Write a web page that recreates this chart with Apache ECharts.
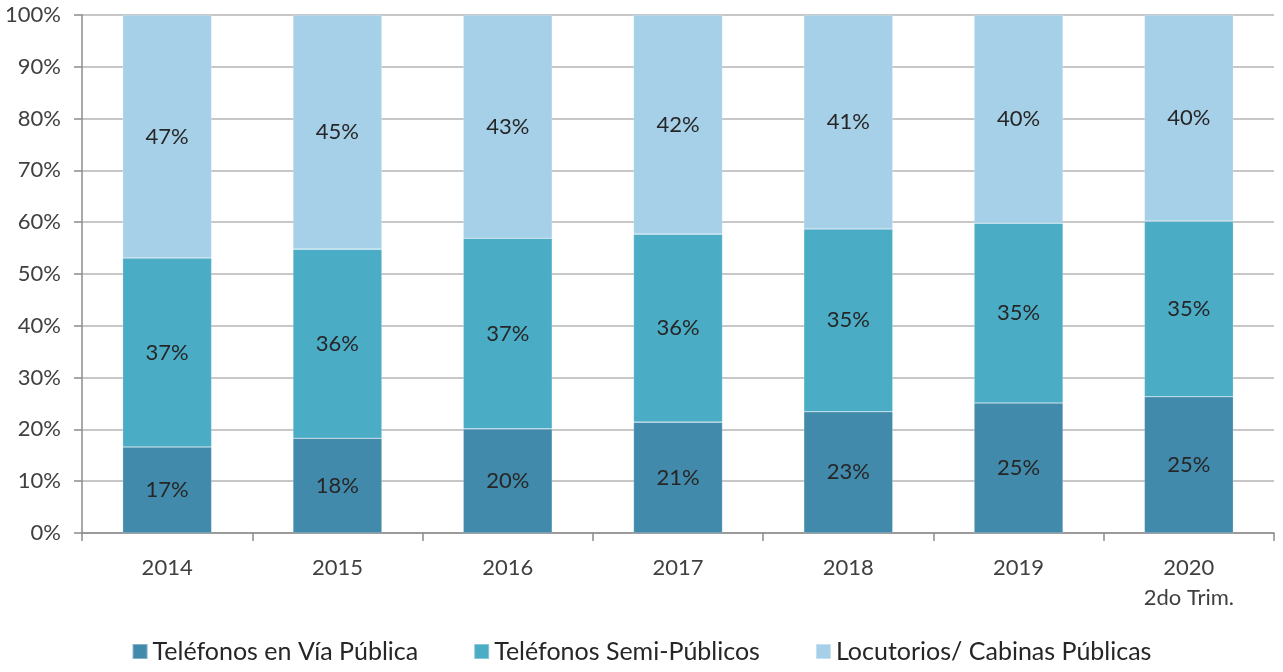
<!DOCTYPE html>
<html>
<head>
<meta charset="utf-8">
<script src="https://cdn.jsdelivr.net/npm/echarts@6/dist/echarts.min.js"></script>
<style>
  html, body { margin: 0; padding: 0; background: #fff; }
  #chart { width: 1283px; height: 672px; }
</style>
</head>
<body>
<div id="chart"></div>
<script>
  var years = ['2014', '2015', '2016', '2017', '2018', '2019', '2020\n2do Trim.'];
  var viaPublica = [16.6, 18.3, 20.1, 21.4, 23.4, 25.1, 26.3];
  var semiPublicos = [36.5, 36.5, 36.8, 36.3, 35.3, 34.7, 33.9];
  var locutorios = [46.9, 45.2, 43.1, 42.3, 41.3, 40.2, 39.8];
  // etiquetas tal como aparecen en el gráfico
  var viaLabels = ['17%', '18%', '20%', '21%', '23%', '25%', '25%'];
  var semiLabels = ['37%', '36%', '37%', '36%', '35%', '35%', '35%'];
  var locLabels = ['47%', '45%', '43%', '42%', '41%', '40%', '40%'];

  var myChart = echarts.init(document.getElementById('chart'));

  function serie(name, data, labels, color) {
    return {
      name: name,
      type: 'bar',
      stack: 'total',
      barWidth: 89,
      data: data,
      itemStyle: { color: color, borderColor: 'rgba(255,255,255,0.35)', borderWidth: 0.6 },
      label: {
        show: true,
        position: 'inside',
        color: '#262626',
        fontSize: 22,
        fontFamily: 'Lato',
        formatter: function (p) { return labels[p.dataIndex]; }
      }
    };
  }

  myChart.setOption({
    animation: false,
    textStyle: { fontFamily: 'Lato' },
    grid: { left: 82, right: 9, top: 15, bottom: 139 },
    legend: {
      bottom: 3,
      left: 'center',
      itemWidth: 15,
      itemHeight: 15,
      itemGap: 55,
      icon: 'rect',
      textStyle: { fontSize: 25, color: '#262626', fontFamily: 'Lato' },
      data: ['Teléfonos en Vía Pública', 'Teléfonos Semi-Públicos', 'Locutorios/ Cabinas Públicas']
    },
    xAxis: {
      type: 'category',
      data: years,
      axisLine: { lineStyle: { color: '#8c8c8c', width: 1.5 } },
      axisTick: { show: true, length: 8, lineStyle: { color: '#8c8c8c', width: 1.5 } },
      axisLabel: { fontSize: 22, color: '#404040', margin: 20, lineHeight: 30, fontFamily: 'Lato' }
    },
    yAxis: {
      type: 'value',
      min: 0,
      max: 100,
      interval: 10,
      axisLine: { show: true, lineStyle: { color: '#8c8c8c', width: 1.5 } },
      axisTick: { show: true, length: 8, lineStyle: { color: '#8c8c8c', width: 1.5 } },
      splitLine: { lineStyle: { color: '#b5b5b5', width: 1.5 } },
      axisLabel: { fontSize: 22, color: '#404040', margin: 21, formatter: '{value}%', fontFamily: 'Lato' }
    },
    series: [
      serie('Teléfonos en Vía Pública', viaPublica, viaLabels, '#418aab'),
      serie('Teléfonos Semi-Públicos', semiPublicos, semiLabels, '#4bacc6'),
      serie('Locutorios/ Cabinas Públicas', locutorios, locLabels, '#a6cfe8')
    ]
  });

  window.addEventListener('resize', function () {
    myChart.resize();
  });
</script>
</body>
</html>
